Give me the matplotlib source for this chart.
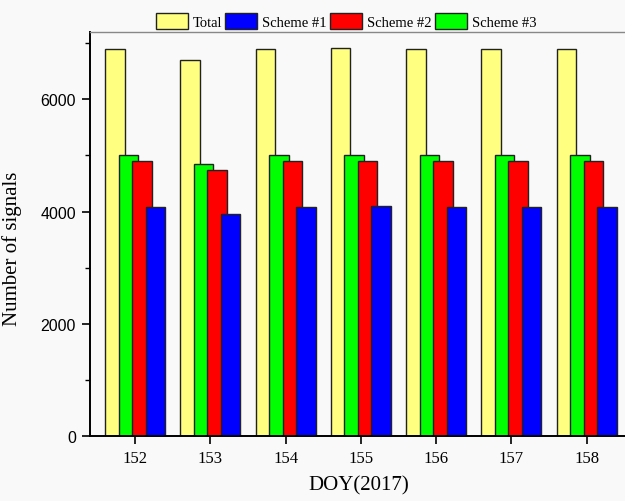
import numpy as np
import matplotlib.pyplot as plt
from matplotlib.ticker import MultipleLocator

# ─── Data ───────────────────────────────────────────────
doy = [152, 153, 154, 155, 156, 157, 158]
total = [6900, 6700, 6900, 6920, 6900, 6900, 6900]
scheme1 = [4090, 3965, 4090, 4100, 4090, 4090, 4090]
scheme2 = [4900, 4745, 4900, 4900, 4900, 4900, 4900]
scheme3 = [5000, 4850, 5000, 5000, 5000, 5000, 5000]

# ─── Style ──────────────────────────────────────────────
serif = ["Liberation Serif", "DejaVu Serif"]
sans = ["Liberation Sans", "DejaVu Sans"]
bg = "#f9f9f9"

fig = plt.figure(figsize=(6.25, 5.02), dpi=100, facecolor=bg)
ax = fig.add_axes([90 / 625, 1 - 437 / 502, 538 / 625, 404 / 502])
ax.set_facecolor(bg)

x = np.array(doy, dtype=float)
width = 0.26
# drawn left to right so each bar overlaps the one before it
series = [
    (total, "#ffff80", -0.27, "Total"),
    (scheme3, "#00ff00", -0.09, "Scheme #3"),
    (scheme2, "#ff0000", 0.09, "Scheme #2"),
    (scheme1, "#0000ff", 0.27, "Scheme #1"),
]
handles = {}
for vals, color, off, label in series:
    handles[label] = ax.bar(x + off, vals, width=width, color=color,
                            edgecolor="#222222", linewidth=1.0, label=label)

ax.set_xlim(151.4, 158.55)
ax.set_ylim(0, 7200)
ax.set_xticks(doy)
ax.set_xticklabels([str(d) for d in doy], fontfamily=serif, fontsize=12)
ax.yaxis.set_major_locator(MultipleLocator(2000))
ax.yaxis.set_minor_locator(MultipleLocator(1000))
for lab in ax.get_yticklabels():
    lab.set_fontfamily(sans)
    lab.set_fontsize(11.5)

ax.tick_params(axis="y", which="major", direction="out", length=6, width=1.2, pad=4)
ax.tick_params(axis="y", which="minor", direction="out", length=3.5, width=1.0)
ax.tick_params(axis="y", which="both", right=True)
ax.tick_params(axis="x", direction="out", length=6, width=1.2, pad=4)

ax.spines["left"].set_linewidth(1.4)
ax.spines["bottom"].set_linewidth(1.4)
ax.spines["top"].set_linewidth(1.0)
ax.spines["top"].set_color("#888888")
ax.spines["right"].set_visible(False)

ax.set_xlabel("DOY(2017)", fontfamily=serif, fontsize=15, labelpad=7)
ax.set_ylabel("Number of signals", fontfamily=serif, fontsize=15)
ax.yaxis.set_label_coords(-0.126, 0.465)

order = ["Total", "Scheme #1", "Scheme #2", "Scheme #3"]
fig.legend([handles[k] for k in order], order, loc="center",
           bbox_to_anchor=(346 / 625, 1 - 22 / 502), ncol=4, frameon=False,
           prop={"family": serif, "size": 10.5}, handlelength=2.2,
           handleheight=1.25, handletextpad=0.35, columnspacing=0.2)

fig.savefig("out.png", dpi=100, facecolor=bg)
